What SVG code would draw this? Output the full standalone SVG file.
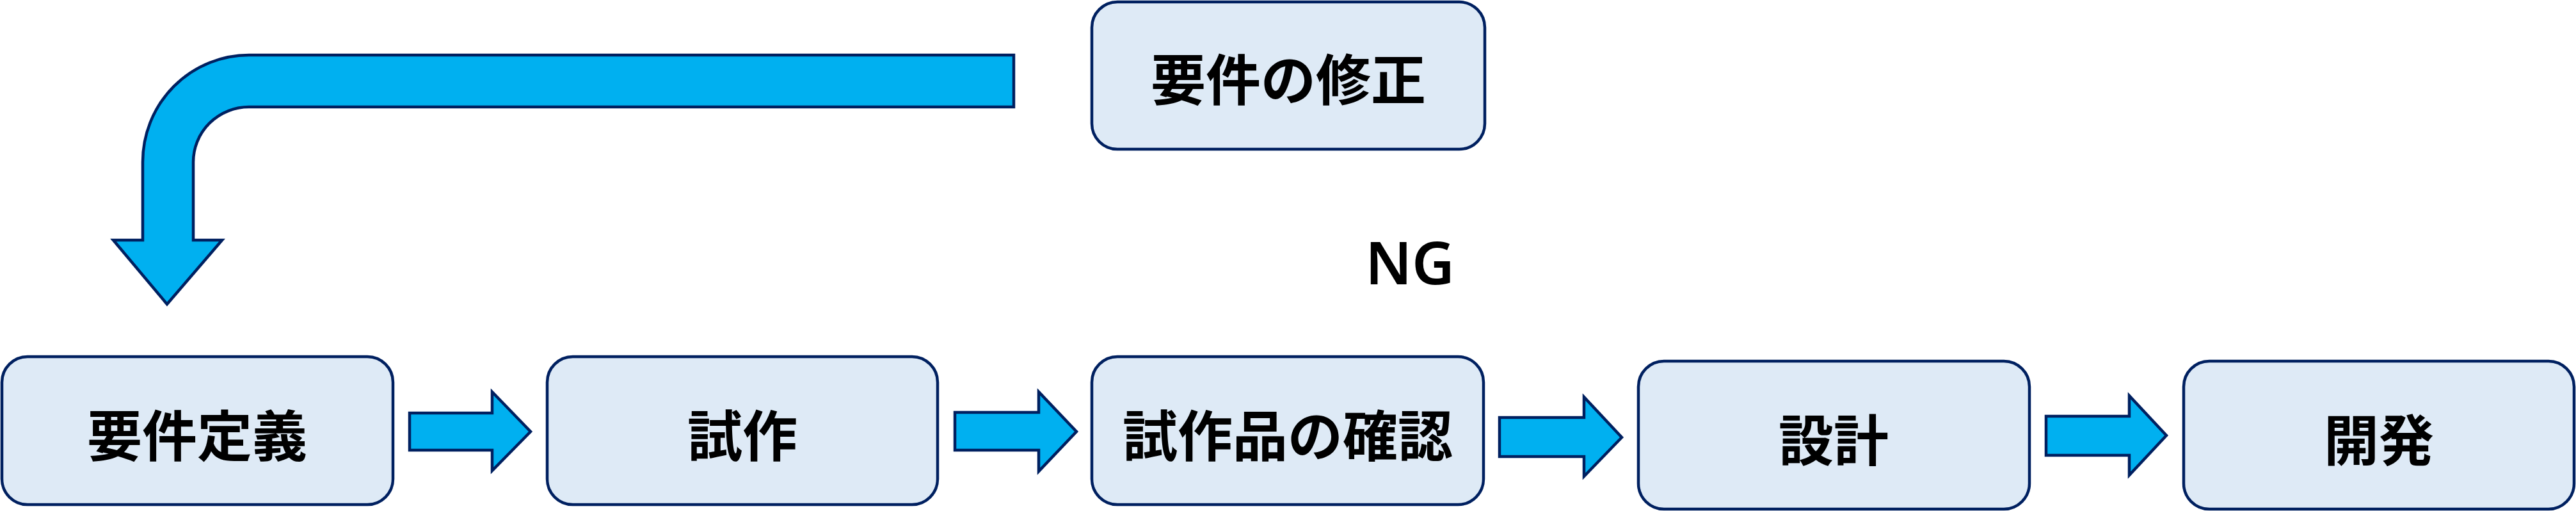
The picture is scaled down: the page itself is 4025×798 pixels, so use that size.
<svg xmlns="http://www.w3.org/2000/svg" width="4025" height="798" viewBox="0 0 4025 798">
<style>
.node{fill:#DEEAF6;stroke:#002060;stroke-width:4.5}
.arrow{fill:#00B0F0;stroke:#002060;stroke-width:4.5;stroke-linejoin:miter}
.lbl{font-family:"Noto Sans CJK JP","Noto Sans",sans-serif;font-size:86px;font-weight:700;fill:#000;text-anchor:middle}
.ng{font-family:"Noto Sans","Liberation Sans",sans-serif;font-size:92px;font-weight:600;fill:#000;text-anchor:middle}
</style>
<rect width="4025" height="798" fill="#fff"/>
<g id="connectors">
<path class="arrow" d="M1584,86 L389,86 A166,167 0 0 0 223,253 L223,375 L177,375 L261,475 L347,375 L302,375 L302,253 A87,86 0 0 1 389,167 L1584,167 Z"/>
<path class="arrow" d="M640,645 L769,645 L769,612 L829,674 L769,735 L769,703 L640,703 Z"/>
<path class="arrow" d="M1492,644 L1623,644 L1623,612 L1682,674 L1623,736 L1623,703 L1492,703 Z"/>
<path class="arrow" d="M2343,652 L2475,652 L2475,620 L2534,683 L2475,744 L2475,713 L2343,713 Z"/>
<path class="arrow" d="M3197,650 L3327,650 L3327,618 L3385,680 L3327,742 L3327,711 L3197,711 Z"/>
<text class="ng" x="2203" y="444">NG</text>
</g>
<g id="node-fix">
<rect class="node" x="1706" y="3" width="614" height="230" rx="40"/>
<text class="lbl" x="2013" y="157">要件の修正</text>
</g>
<g id="node-req">
<rect class="node" x="3" y="557" width="611" height="231" rx="40"/>
<text class="lbl" x="308" y="713">要件定義</text>
</g>
<g id="node-proto">
<rect class="node" x="855" y="557" width="610" height="231" rx="40"/>
<text class="lbl" x="1160" y="713">試作</text>
</g>
<g id="node-check">
<rect class="node" x="1706" y="557" width="612" height="231" rx="40"/>
<text class="lbl" x="2012" y="713">試作品の確認</text>
</g>
<g id="node-design">
<rect class="node" x="2560" y="564" width="611" height="231" rx="40"/>
<text class="lbl" x="2865" y="720">設計</text>
</g>
<g id="node-dev">
<rect class="node" x="3412" y="564" width="610" height="231" rx="40"/>
<text class="lbl" x="3717" y="720">開発</text>
</g>
</svg>
